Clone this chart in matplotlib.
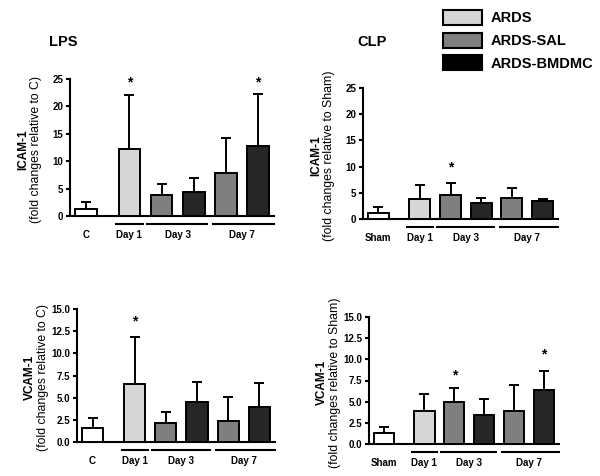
import matplotlib.pyplot as plt
import matplotlib.transforms as mtransforms
from matplotlib.patches import Patch

plt.rcParams['font.family'] = ['Liberation Sans', 'DejaVu Sans']

# bar order: control, ARDS day1, SAL day3, BMDMC day3, SAL day7, BMDMC day7
positions = [0, 1.35, 2.35, 3.35, 4.35, 5.35]
bar_colors = ['white', '#d6d6d6', '#7f7f7f', '#262626', '#7f7f7f', '#262626']
series_names = ['ARDS', 'ARDS-SAL', 'ARDS-BMDMC']

icam_lps_mean = [1.3, 12.2, 3.9, 4.4, 7.8, 12.8]
icam_lps_sd = [1.3, 9.9, 1.9, 2.5, 6.4, 9.5]
icam_clp_mean = [1.2, 3.8, 4.6, 3.1, 4.1, 3.4]
icam_clp_sd = [1.0, 2.7, 2.3, 1.0, 1.8, 0.4]
vcam_lps_mean = [1.55, 6.5, 2.1, 4.5, 2.4, 4.0]
vcam_lps_sd = [1.15, 5.3, 1.3, 2.3, 2.7, 2.6]
vcam_clp_mean = [1.25, 3.9, 4.95, 3.45, 3.85, 6.4]
vcam_clp_sd = [0.75, 2.0, 1.65, 1.85, 3.1, 2.2]

# significance stars: (bar index, height)
icam_lps_stars = [(1, 24.3), (5, 24.3)]
icam_clp_stars = [(2, 9.8)]
vcam_lps_stars = [(1, 13.6)]
vcam_clp_stars = [(2, 8.1), (5, 10.6)]

W, H = 600, 476
fig = plt.figure(figsize=(W / 100, H / 100), dpi=100)


def make_ax(x0, x1, ytop, ybot):
    return fig.add_axes([x0 / W, 1 - ybot / H, (x1 - x0) / W, (ybot - ytop) / H])


def panel(ax, means, sds, stars, ymax, step, fmt, ctrl, marker, note):
    ax.bar(positions, means, width=0.68, color=bar_colors, edgecolor='black',
           linewidth=1.4, zorder=3)
    ax.errorbar(positions, means, yerr=[[0] * len(sds), sds], fmt='none',
                ecolor='black', elinewidth=1.4, capsize=3.5, capthick=1.4, zorder=2)
    for i, y in stars:
        ax.text(positions[i], y, '*', ha='center', va='center',
                fontsize=10, fontweight='bold')
    ax.set_xlim(-0.5, 5.85)
    ax.set_ylim(0, ymax)
    n = int(round(ymax / step)) + 1
    ax.set_yticks([k * step for k in range(n)])
    ax.set_yticklabels([fmt.format(k * step) for k in range(n)],
                       fontsize=7, fontweight='bold')
    ax.set_xticks([])
    for s in ['top', 'right']:
        ax.spines[s].set_visible(False)
    for s in ['left', 'bottom']:
        ax.spines[s].set_linewidth(1.5)
    ax.tick_params(axis='y', length=3, width=1.5, pad=2)

    tr = mtransforms.blended_transform_factory(ax.transData, ax.transAxes)
    line_off = tr + mtransforms.ScaledTranslation(0, -0.08, fig.dpi_scale_trans)
    text_off = tr + mtransforms.ScaledTranslation(0, -0.19, fig.dpi_scale_trans)
    spans = [(positions[1] - 0.42, positions[1] + 0.42),
             (positions[2] - 0.45, positions[3] + 0.4),
             (positions[4] - 0.4, positions[5] + 0.5)]
    for a, b in spans:
        ax.plot([a, b], [0, 0], color='black', lw=1.5, transform=line_off,
                clip_on=False)
    labels = [(positions[0], ctrl), (positions[1], 'Day 1'),
              ((positions[2] + positions[3]) / 2, 'Day 3'),
              ((positions[4] + positions[5]) / 2, 'Day 7')]
    for x, lab in labels:
        ax.text(x, 0, lab, transform=text_off, ha='center', va='center',
                fontsize=7, fontweight='bold')

    pos = ax.get_position()
    yc = pos.y0 + pos.height / 2 - 0.004
    ax.text(pos.x0 - 0.078, yc, marker, transform=fig.transFigure,
            rotation=90, ha='center', va='center', fontsize=8.5, fontweight='bold')
    ax.text(pos.x0 - 0.057, yc, note, transform=fig.transFigure,
            rotation=90, ha='center', va='center', fontsize=8.8)


ax1 = make_ax(70, 274, 79, 216)
panel(ax1, icam_lps_mean, icam_lps_sd, icam_lps_stars, 25, 5, '{:.0f}', 'C',
      'ICAM-1', '(fold changes relative to C)')
ax2 = make_ax(363, 558, 88, 219)
panel(ax2, icam_clp_mean, icam_clp_sd, icam_clp_stars, 25, 5, '{:.0f}', 'Sham',
      'ICAM-1', '(fold changes relative to Sham)')
ax3 = make_ax(77, 275, 309, 442)
panel(ax3, vcam_lps_mean, vcam_lps_sd, vcam_lps_stars, 15, 2.5, '{:.1f}', 'C',
      'VCAM-1', '(fold changes relative to C)')
ax4 = make_ax(369, 559, 317, 444)
panel(ax4, vcam_clp_mean, vcam_clp_sd, vcam_clp_stars, 15, 2.5, '{:.1f}', 'Sham',
      'VCAM-1', '(fold changes relative to Sham)')

fig.text(63 / W, 1 - 42 / H, 'LPS', ha='center', va='center', fontsize=10.5,
         fontweight='bold')
fig.text(372 / W, 1 - 42 / H, 'CLP', ha='center', va='center', fontsize=10.5,
         fontweight='bold')

handles = [Patch(facecolor=c, edgecolor='black', linewidth=1.5)
           for c in ['#d6d6d6', '#7f7f7f', 'black']]
fig.legend(handles, series_names, loc='upper left',
           bbox_to_anchor=(443 / W, 1 - 10 / H), frameon=False, borderpad=0,
           borderaxespad=0, handlelength=2.7, handleheight=1.2,
           handletextpad=0.55, labelspacing=0.5,
           prop={'size': 10.5, 'weight': 'bold'})

fig.savefig('out.png', dpi=100)
